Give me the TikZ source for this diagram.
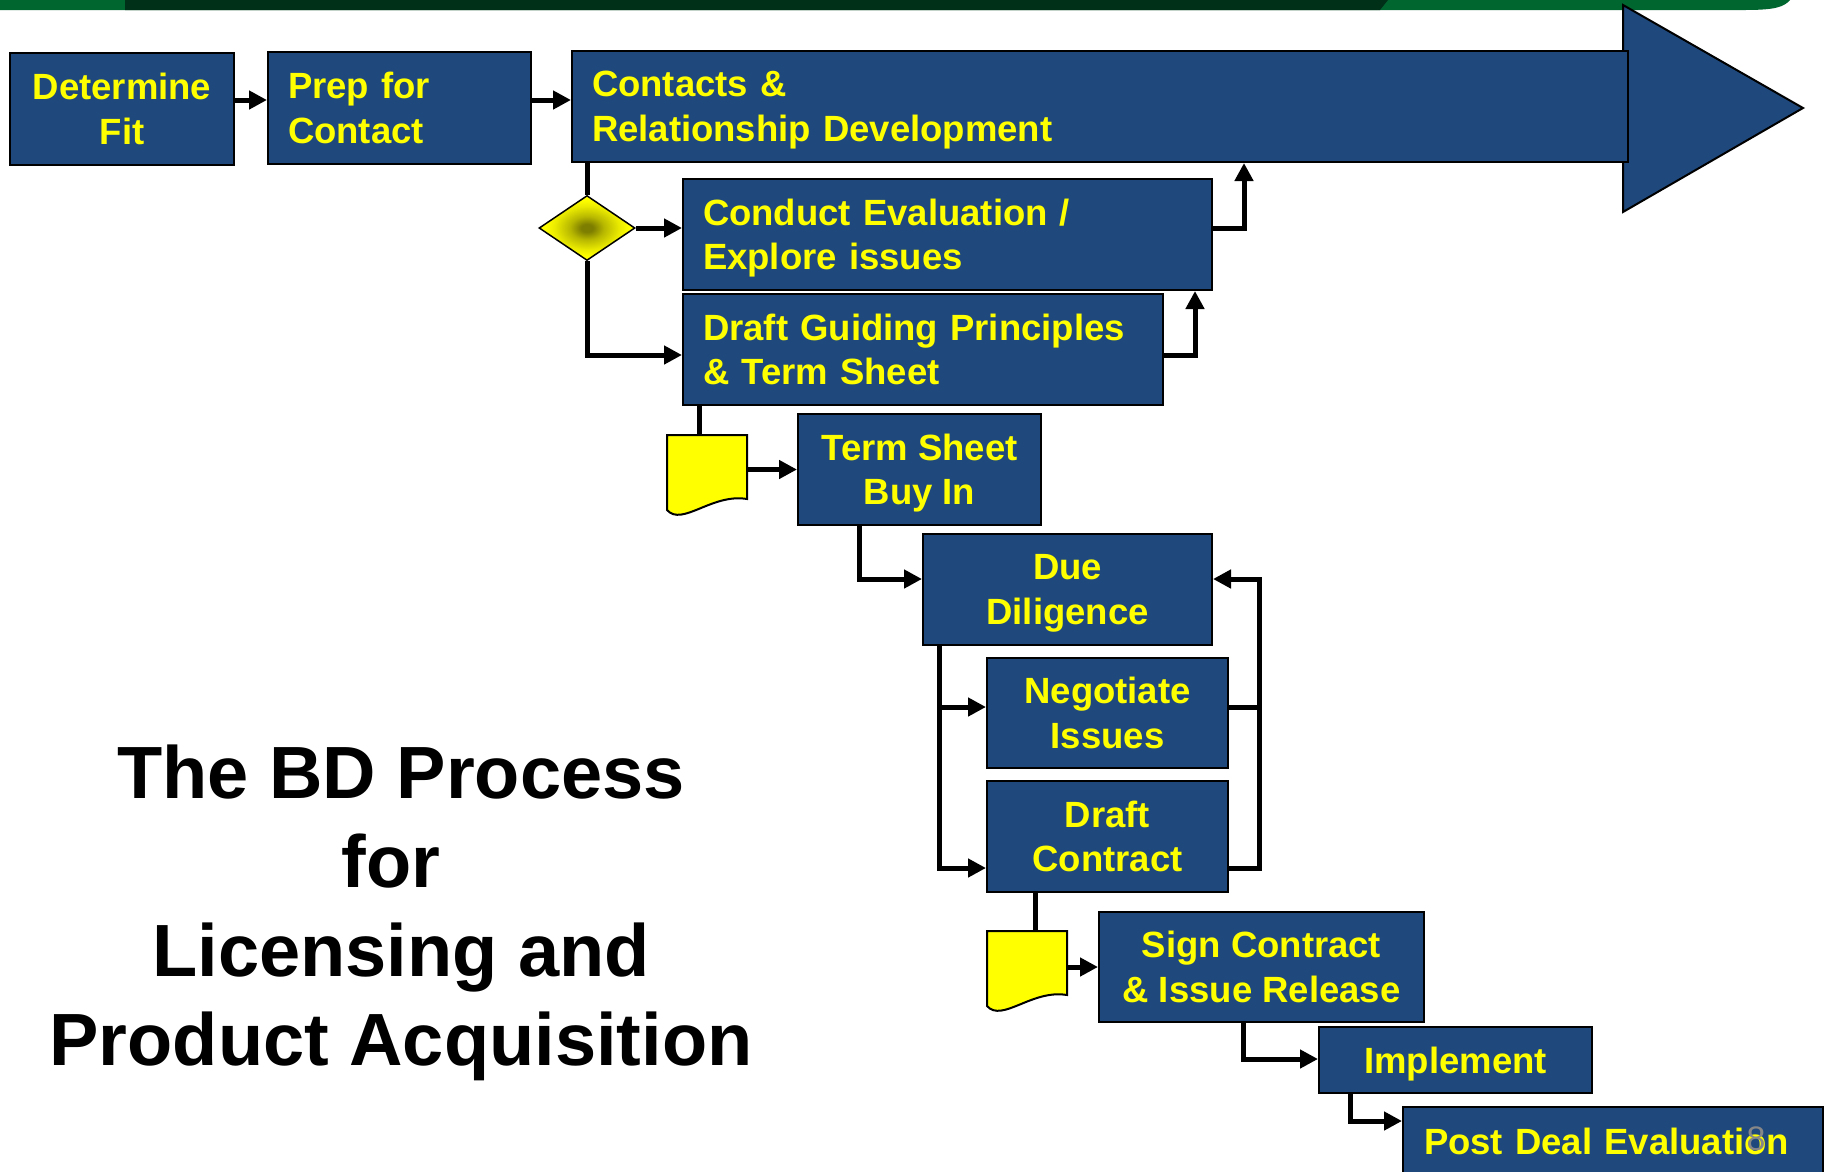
\documentclass[tikz,border=0pt]{standalone}
\usepackage{fontspec}
\setmainfont{Liberation Sans}
\usetikzlibrary{arrows.meta,shapes.geometric,calc}
\definecolor{bdblue}{HTML}{1F497D}
\definecolor{bdyellow}{HTML}{FFFF00}
\definecolor{gLight}{HTML}{00662F}
\definecolor{gDark}{HTML}{003018}
\definecolor{diacore}{RGB}{125,125,0}
\definecolor{numgray}{RGB}{135,135,135}
\pgfdeclareradialshading{diashade}{\pgfpoint{0bp}{0bp}}{color(0bp)=(diacore); color(3bp)=(diacore); color(9bp)=(diacore!55!bdyellow); color(17bp)=(bdyellow!92!black); color(22bp)=(bdyellow); color(50bp)=(bdyellow)}
\begin{document}
\begin{tikzpicture}[x=1pt,y=-1pt,
  box/.style={draw=black, line width=2pt, fill=bdblue, text=bdyellow,
    font=\bfseries\fontsize{36.5}{44.5}\selectfont, anchor=north west,
    inner sep=0pt, align=center},
  lbox/.style={box, align=left, inner xsep=20pt},
  conn/.style={line width=5pt, draw=black},
  arr/.style={conn, -{Triangle[length=18pt,width=18pt]}},
  docshape/.style={draw=black, line width=2pt, fill=bdyellow},
  docbox/.style={minimum width=80pt, minimum height=78pt, inner sep=0pt, anchor=north west},
]
\useasboundingbox (0,0) rectangle (1826,1171);
\fill[white] (0,0) rectangle (1826,1171);
% header bar
\fill[gLight] (0,0) -- (1790,0) .. controls (1784,7) and (1775,10) .. (1745,10) -- (0,10) -- cycle;
\fill[gDark] (125,0) -- (1388,0) -- (1380,10) -- (125,10) -- cycle;

% big arrow head
\filldraw[fill=bdblue, draw=black, line width=2pt] (1623,5) -- (1803,108) -- (1623,212) -- cycle;

% boxes
\node[box, minimum width=224pt, minimum height=112pt] (fit) at (9,52) {Determine\\Fit};
\node[lbox, text width=223pt, minimum height=112pt] (prep) at (267,51) {Prep for\\Contact};
\node[lbox, text width=1016pt, minimum height=111pt] (contacts) at (571,50) {Contacts \&\\\smash{Relationship Development}};
\node[lbox, text width=489pt, minimum height=111pt] (eval) at (682,178) {Conduct Evaluation /\\\smash{Explore issues}};
\node[lbox, text width=440pt, minimum height=111pt] (guide) at (682,293) {Draft Guiding Principles\\\& Term Sheet};
\node[box, minimum width=243pt, minimum height=111pt] (tsbuy) at (797,413) {Term Sheet\\\smash{Buy In}};
\node[box, minimum width=289pt, minimum height=111pt] (dd) at (922,533) {Due\\\smash{Diligence}};
\node[box, minimum width=241pt, minimum height=110pt] (neg) at (986,657) {Negotiate\\Issues};
\node[box, minimum width=241pt, minimum height=111pt] (dc) at (986,780) {Draft\\Contract};
\node[box, minimum width=325pt, minimum height=110pt] (sign) at (1098,911) {Sign Contract\\\& Issue Release};
\node[box, minimum width=273pt, minimum height=66pt] (impl) at (1318,1026) {\rule{0pt}{26.5pt}\smash{Implement}};
\node[lbox, inner xsep=21pt, text width=378pt, minimum height=68pt] (post) at (1402,1106) {Post Deal Evaluation};
\node[text=numgray, font=\fontsize{34}{40}\selectfont, inner sep=0pt] (pagenum) at (1756,1139) {8};

% documents
\node[docbox] (doc1) at (667,435) {};
\draw[docshape, shift={(doc1.north west)}] (0,0) -- (80,0) -- (80,64) .. controls (45,58) and (15,92) .. (0,75) -- cycle;
\node[docbox] (doc2) at (987,931) {};
\draw[docshape, shift={(doc2.north west)}] (0,0) -- (80,0) -- (80,64) .. controls (45,58) and (15,92) .. (0,75) -- cycle;

% helper coordinates
\coordinate (r1) at (0,100);
\coordinate (c1) at (1244,228);
\coordinate (c2) at (1195,355);
\coordinate (c3) at (699,0);
\coordinate (c4) at (859,579);
\coordinate (c5) at (939,707);
\coordinate (c6) at (939,868);
\coordinate (c7) at (1259,579);
\coordinate (c8) at (1035,0);
\coordinate (c9) at (1243,1059);
\coordinate (c10) at (1350,1121);

% decision diamond
\node[diamond, draw=black, line width=1.5pt, minimum width=96pt, minimum height=65pt,
      inner sep=0pt, shape aspect=1.48, shading=diashade] (dec) at (587,228) {};

% connectors
\draw[arr] (fit.east |- r1) -- (prep.west |- r1);
\draw[arr] (prep.east |- r1) -- (contacts.west |- r1);
\draw[conn] (dec.north |- contacts.south) -- (dec.north);
\draw[arr] (dec.east) -- (eval.west |- dec.east);
\draw[arr] (dec.south) |- (guide.west |- c2);
\draw[arr] (eval.east |- c1) -| (c1 |- contacts.south);
\draw[arr] (guide.east |- c2) -| (c2 |- eval.south);
\draw[conn] (c3 |- guide.south) -- (c3 |- doc1.north);
\draw[arr] (doc1.east |- tsbuy.west) -- (tsbuy.west);
\draw[arr] (c4 |- tsbuy.south) |- (dd.west |- c4);
\draw[arr] (c5 |- dd.south) |- (dc.west |- c6);
\draw[arr] (c5) -- (neg.west |- c5);
\draw[conn] (neg.east |- c5) -- (c7 |- c5);
\draw[arr] (dc.east |- c6) -| (c7) -- (dd.east |- c7);
\draw[conn] (c8 |- dc.south) -- (c8 |- doc2.north);
\draw[arr] (doc2.east |- sign.west) -- (sign.west);
\draw[arr] (c9 |- sign.south) |- (impl.west |- c9);
\draw[arr] (c10 |- impl.south) |- (post.west |- c10);

% title
\node[font=\bfseries\fontsize{74}{89}\selectfont, align=center, inner sep=0pt] (title) at (401,913)
  {The BD Process\\for\kern20pt\\Licensing and\\Product Acquisition};
\end{tikzpicture}
\end{document}
